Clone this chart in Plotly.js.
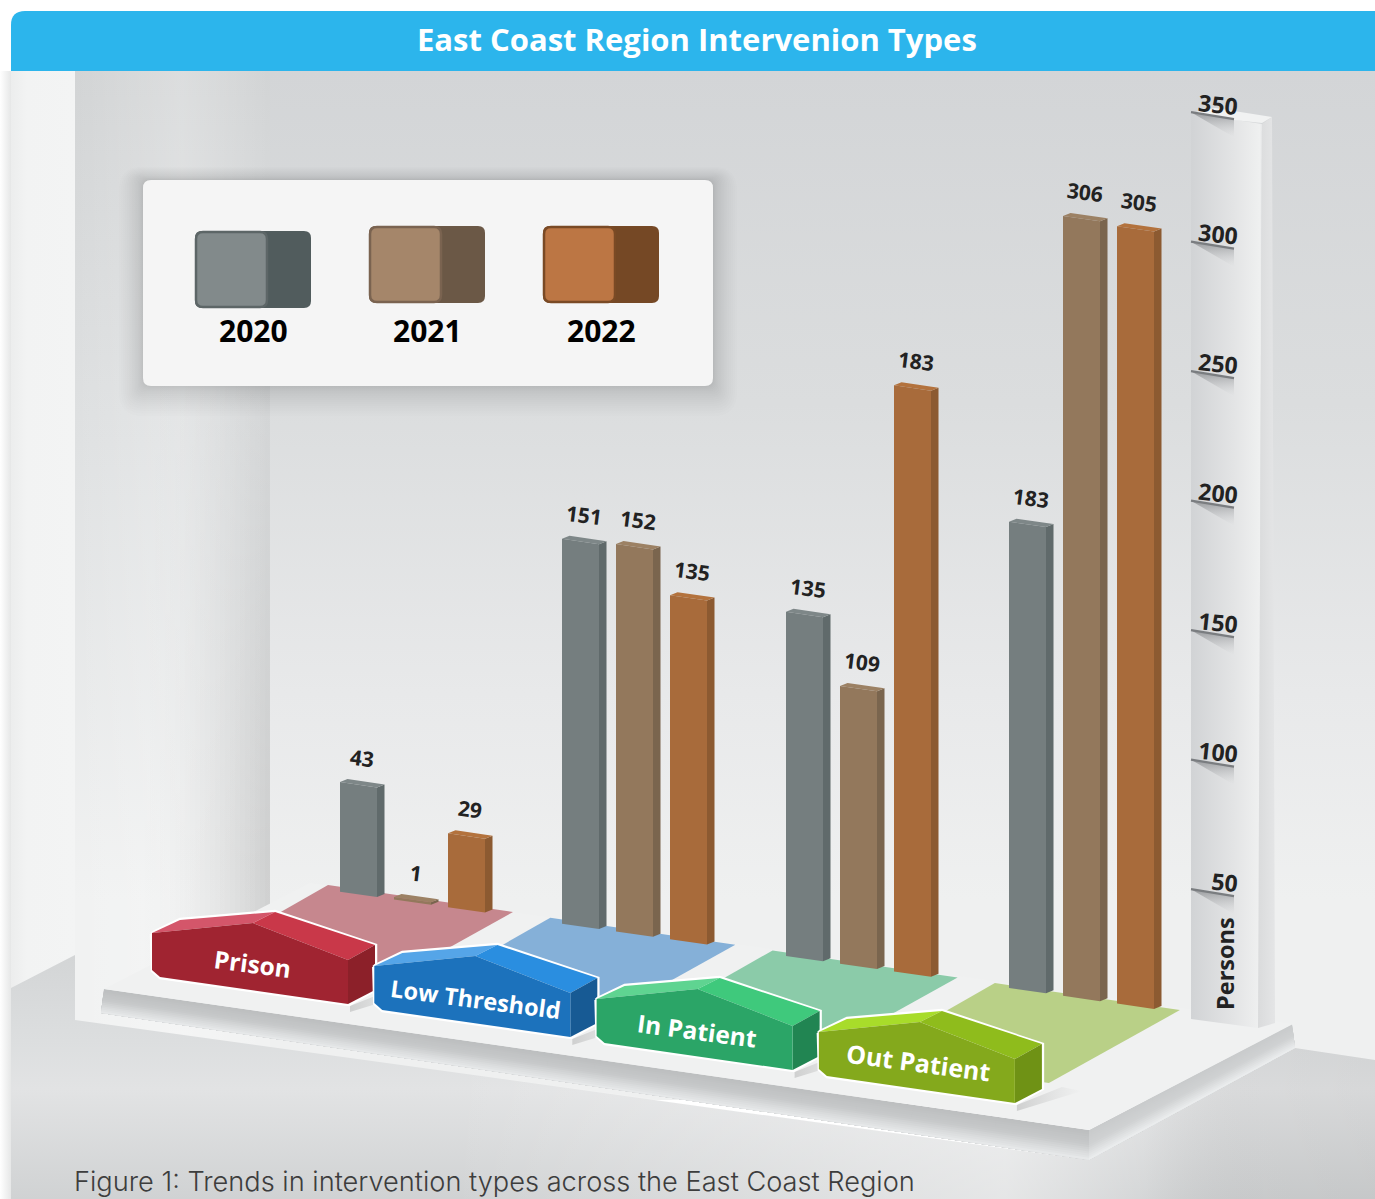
<!DOCTYPE html>
<html><head><meta charset="utf-8">
<script src="https://cdn.plot.ly/plotly-3.0.1.min.js"></script>
<style>html,body{margin:0;padding:0;background:#fff}#c{width:1375px;height:1199px}</style>
</head><body><div id="c"></div>
<script>
// ---------- data ----------
const categories = ["Prison","Low Threshold","In Patient","Out Patient"];
const years = ["2020","2021","2022"];
// heights as they stand on the Persons axis
const values2020 = [43,151,135,183];
const values2021 = [1,152,109,306];
const values2022 = [29,135,230,305];   // the In Patient bar stands near 230 but the source labels it 183
// printed labels
const labels2020 = ["43","151","135","183"];
const labels2021 = ["1","152","109","306"];
const labels2022 = ["29","135","183","305"];
const axisTicks = [50,100,150,200,250,300,350];

// ---------- styling ----------
const frontCol = ["#757e7f","#93785c","#a86b3b"];
const sideCol  = ["#606a6b","#7a654e","#8c5a31"];
const topCol   = ["#7e8788","#9c8164","#b3723d"];
const floorCol = ["#c6878e","#85b0d8","#8bcba9","#b9d087"];
const tagCol = [
 {f:"#a02431",tl:"#d4566a",tr:"#c93849",s:"#8c2029"},
 {f:"#1c72bc",tl:"#55a5e8",tr:"#2a8ee0",s:"#175a94"},
 {f:"#2ba567",tl:"#5fd491",tr:"#3fc97c",s:"#218552"},
 {f:"#84a91c",tl:"#a8dc2a",tr:"#8fbc1c",s:"#6f9215"}];
const tagFont = [24.5,23.5,24.5,25];
const SANS = '"Open Sans",sans-serif';

// ---------- scene geometry ----------
const W=1375,H=1199, Y0=1013.7, S=2.59, barScale=0.984;
const toV = px => (Y0-px)/S;
const groupX=[340,562,786,1009], yearDX=[0,54,108], FW=37, DX=7.5, DY=3;
const groundPx = x => 891.7+0.144*(x-340);
const STEPX=222.3, STEPY=33;

const traces=[];
function poly(xs,ys,opt,axis){
  const t={type:'scatter',mode:'none',x:[...xs,xs[0]],y:[...ys,ys[0]],fill:'toself',hoverinfo:'skip',showlegend:false,yaxis:axis||'y'};
  if(opt.c) t.fillcolor=opt.c;
  if(opt.g) t.fillgradient=opt.g;
  if(opt.line){t.mode='lines';t.line=opt.line;}
  traces.push(t);
}
const grad=(type,start,stop,stops)=>({type,start,stop,colorscale:stops});
// a sloped face shaded across its thickness: each strip runs to the far edge, painted over the last
function bands(p0,p1,p2,p3,n,stops){
  const L=(p,q,t)=>p+(q-p)*t;
  for(let i=0;i<n;i++){
    const a=i/n, tt=(i+.5)/n;
    let v=stops[0][1];
    for(let s=1;s<stops.length;s++){ if(tt<=stops[s][0]){const f=(tt-stops[s-1][0])/(stops[s][0]-stops[s-1][0]);v=stops[s-1][1]+(stops[s][1]-stops[s-1][1])*f;break;} }
    v=Math.round(v);
    poly([L(p0[0],p3[0],a),L(p1[0],p2[0],a),p2[0],p3[0]],[L(p0[1],p3[1],a),L(p1[1],p2[1],a),p2[1],p3[1]],{c:`rgb(${v},${v+2},${v+3})`});
  }
}

// page shadow + panel
poly([0,11,11,0],[71,71,H,H],{g:grad('horizontal',0,11,[[0,'#ffffff'],[1,'#e6e7e7']])});
// left strip
poly([11,75,75,11],[71,71,1020,1020],{g:grad('horizontal',11,75,[[0,'#eceded'],[0.25,'#f2f3f3'],[1,'#f3f4f4']])});
// back wall
poly([270,W,W,270],[71,71,1100,1100],{g:grad('vertical',71,900,[[0,'#d3d5d7'],[0.4,'#dbddde'],[0.75,'#e8e9ea'],[1,'#eff0f0']])});
// left wall
poly([75,270,270,75],[71,71,1100,1100],{g:grad('vertical',71,900,[[0,'#d2d4d5'],[0.45,'#dfe1e2'],[1,'#f1f2f2']])});
poly([75,270,270,75],[71,71,1100,1100],{g:grad('horizontal',75,270,[[0,'rgba(255,255,255,0)'],[0.55,'rgba(255,255,255,0.22)'],[1,'rgba(255,255,255,0)']])});
// corner darkening that strengthens towards the floor: narrow columns, each fading in downwards
for(let cx=130;cx<270;cx+=5){
  const f=(cx+2.5-130)/140, alpha=(0.14*f*f).toFixed(4);
  poly([cx,cx+5,cx+5,cx],[71,71,1000,1000],{g:grad('vertical',180,860,[[0,'rgba(0,0,0,0)'],[1,`rgba(0,0,0,${alpha})`]])});
}
// floor
poly([11,75,75,1089,1295,W,W,11],[988,955,1020,1160,1048,1060,H,H],{g:grad('vertical',955,H,[[0,'#d3d5d6'],[0.35,'#dcdedf'],[0.55,'#e2e3e4'],[1,'#d0d2d3']])});
poly([450,1089,1295,W,W,450],[1071,1160,1048,1060,H,H],{g:grad('horizontal',450,W,[[0,'rgba(255,255,255,0)'],[0.6,'rgba(255,255,255,0.45)'],[0.75,'rgba(255,255,255,0.1)'],[0.88,'rgba(0,0,0,0.04)'],[1,'rgba(0,0,0,0.05)']])});
// platform sides, shaded from the top edge down
bands([104,989],[1089,1130],[1089,1160],[101,1013],14,[[0,188],[0.45,198],[1,232]]);
bands([1089,1130],[1292,1024],[1295,1048],[1089,1160],14,[[0,200],[0.5,208],[1,236]]);
// platform top
poly([104,310,1293,1089],[989,883,1024,1130],{c:'#f0f1f1'});
// coloured floor panels
floorCol.forEach((c,i)=>{
  const dx=i*STEPX,dy=i*32.7;
  poly([328+dx,513+dx,382+dx,200+dx],[885+dy,912+dy,985+dy,958+dy],{c});
});
// Persons post
poly([1191,1262,1258,1191],[113,124,1028,1019],{g:grad('horizontal',1191,1262,[[0,'#d1d3d5'],[0.6,'#e3e4e5'],[0.97,'#eff0f0'],[1,'#e6e7e8']])});
poly([1262,1272,1275,1258],[124,117,1023,1028],{g:grad('horizontal',1258,1275,[[0,'#dadbdc'],[1,'#e4e5e6']])});
poly([1191,1215,1272,1262,1234],[113,108,117,123,120],{c:'#f1f2f2'});

// ---------- tick marks (Persons axis scale) ----------
const TICK_OFFSET=5/S;
axisTicks.forEach(v=>{
  const a=v-TICK_OFFSET, b=a-7/S;
  poly([1191,1234,1234],[a,b,b-18/S],{g:grad('vertical',a,b-18/S,[[0,'rgba(130,132,135,0.75)'],[1,'rgba(200,202,204,0)']])},'y2');
  traces.push({type:'scatter',mode:'lines',x:[1191,1234],y:[a,b],line:{color:'#7a7d80',width:2.2},hoverinfo:'skip',showlegend:false,yaxis:'y2'});
});

// ---------- bars ----------
const series=[values2020,values2021,values2022];
const seriesLabels=[labels2020,labels2021,labels2022];
const annotations=[];
series.forEach((vals,k)=>{
  const fx=[],fy=[],sx=[],sy=[],tx=[],ty=[];
  vals.forEach((v,i)=>{
    const x=groupX[i]+yearDX[k], x2=x+FW;
    const g1=toV(groundPx(x)), g2=toV(groundPx(x2));
    const h=v*barScale, d=DY/S;
    fx.push(x,x2,x2,x,x,null); fy.push(g1,g2,g2+h,g1+h,g1,null);
    sx.push(x2,x2+DX,x2+DX,x2,x2,null); sy.push(g2,g2+d,g2+h+d,g2+h,g2,null);
    tx.push(x,x+DX,x2+DX,x2,x,null); ty.push(g1+h,g1+h+d,g2+h+d,g2+h,g1+h,null);
    annotations.push({xref:'x',yref:'y2',x:x+22,y:g1+h,yshift:24,text:seriesLabels[k][i],showarrow:false,textangle:7,
      font:{family:SANS,size:21,color:'#222',weight:700}});
  });
  traces.push({type:'scatter',mode:'none',name:years[k]+' side',x:sx,y:sy,fill:'toself',fillcolor:sideCol[k],hoverinfo:'skip',showlegend:false,yaxis:'y2'});
  traces.push({type:'scatter',mode:'none',name:years[k]+' top',x:tx,y:ty,fill:'toself',fillcolor:topCol[k],hoverinfo:'skip',showlegend:false,yaxis:'y2'});
  traces.push({type:'scatter',mode:'none',name:years[k],x:fx,y:fy,fill:'toself',fillcolor:frontCol[k],hoverinfo:'skip',showlegend:false,yaxis:'y2'});
});

// ---------- category tags ----------
const tagTextPos=[[252,963],[475,999],[697,1030],[918,1062]];
categories.forEach((name,i)=>{
  const dx=i*STEPX,dy=i*STEPY, X=a=>a.map(v=>v+dx), Y=a=>a.map(v=>v+dy), col=tagCol[i];
  // soft contact shadow
  poly(X([350,395,415,350]),Y([1006,988,992,1012]),{g:grad('horizontal',350+dx,415+dx,[[0,'rgba(90,90,90,0.22)'],[1,'rgba(120,120,120,0)']])},'y3');
  poly(X([151,153,180,275,376,376,349,160,152]),Y([934,932,919,911,945,990,1005,978,971]),{c:'#ffffff',line:{color:'#ffffff',width:2.5,shape:'linear'}},'y3');
  poly(X([152,180,275,253]),Y([933,920,912,923]),{c:col.tl},'y3');
  poly(X([253,275,375,348]),Y([923,912,945,960]),{c:col.tr},'y3');
  poly(X([348,375,375,348]),Y([960,945,990,1004]),{c:col.s},'y3');
  poly(X([152,253,348,348,160,152]),Y([933,923,960,1004,977,970]),{c:col.f},'y3');
  annotations.push({xref:'x',yref:'y3',x:tagTextPos[i][0],y:tagTextPos[i][1],text:name,showarrow:false,textangle:7.5,
    font:{family:SANS,size:tagFont[i],color:'#ffffff',weight:700}});
});

// ---------- layout decorations ----------
const rr=(x0,y0,x1,y1,r)=>`M ${x0+r} ${y0} L ${x1-r} ${y0} Q ${x1} ${y0} ${x1} ${y0+r} L ${x1} ${y1-r} Q ${x1} ${y1} ${x1-r} ${y1} L ${x0+r} ${y1} Q ${x0} ${y1} ${x0} ${y1-r} L ${x0} ${y0+r} Q ${x0} ${y0} ${x0+r} ${y0} Z`;
const shape=(path,fill,line,lw,layer)=>({type:'path',xref:'x',yref:'y',path,fillcolor:fill,line:{color:line||fill,width:lw||0},layer:layer||'above'});
const shapes=[];
// title bar
shapes.push(shape(`M 11 71 L 11 25 Q 11 11 25 11 L ${W} 11 L ${W} 71 Z`,'#2cb5ec'));
// legend shadow: many faint, nested rectangles with a soft falloff
for(let i=0;i<18;i++){
  const t=24*Math.pow(1-i/18,1.6);
  shapes.push(shape(rr(143-t,180-t*0.55,713+t,386+t*1.25,Math.max(t,8)),'rgba(60,62,65,0.012)'));
}
shapes.push(shape(rr(143,180,713,386,8),'#f5f5f5'));
// legend swatches
const legendX=[195,369,543], legendY=[231,226,226];
const swBorder=['#5d6667','#7a6350','#7a4a25'], swSide=['#515c5d','#6b5846','#754825'], swFront=['#828a8b','#a5866a','#bc7644'];
years.forEach((y,i)=>{
  const x=legendX[i],t=legendY[i];
  shapes.push(shape(rr(x,t,x+116,t+77,7),swSide[i]));
  shapes.push(shape(rr(x+1,t+1,x+72,t+76,7),swFront[i],swBorder[i],2.5));
  annotations.push({xref:'x',yref:'y',x:x+58,y:330,text:y,showarrow:false,font:{family:SANS,size:30,color:'#000',weight:700}});
});
annotations.push({xref:'x',yref:'y',x:697,y:39,text:'East Coast Region Intervenion Types',showarrow:false,
  font:{family:SANS,size:31,color:'#fff',weight:700}});
annotations.push({xref:'x',yref:'y',x:72,y:1181,xanchor:'left',text:'Figure 1: Trends in intervention types across the East Coast Region',showarrow:false,
  font:{family:'Inter,sans-serif',size:27.2,color:'#3d3d3d',weight:300}});
annotations.push({xref:'x',yref:'y',x:1225,y:964,text:'Persons',showarrow:false,textangle:-90,
  font:{family:SANS,size:23.5,color:'#222',weight:700}});

const hidden={visible:false,showgrid:false,zeroline:false};
const layout={
  width:W,height:H,margin:{l:0,r:0,t:0,b:0},paper_bgcolor:'#fff',plot_bgcolor:'rgba(0,0,0,0)',showlegend:false,
  xaxis:{...hidden,range:[0,W],domain:[0,1]},
  yaxis:{...hidden,range:[H,0],domain:[0,1]},
  yaxis2:{overlaying:'y',anchor:'free',position:1238/W,side:'left',range:[toV(H),toV(0)],
    tickmode:'array',tickvals:axisTicks,ticktext:axisTicks.map(String),tickangle:6,ticks:'',showgrid:false,zeroline:false,showline:false,
    tickfont:{family:SANS,size:23,color:'#222',weight:700}},
  yaxis3:{...hidden,overlaying:'y',range:[H,0]},
  shapes,annotations
};
Plotly.newPlot('c',traces,layout,{displayModeBar:false,staticPlot:true});
</script></body></html>
